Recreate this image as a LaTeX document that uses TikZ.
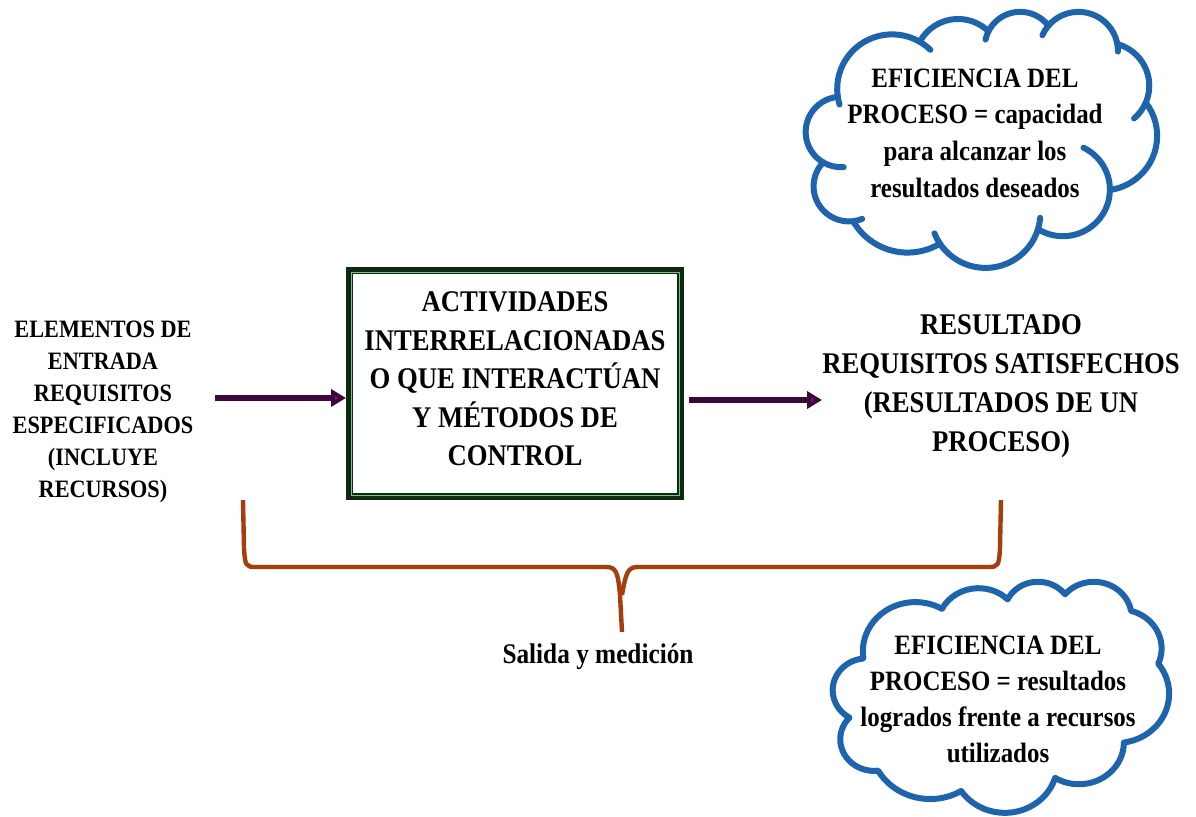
\documentclass[tikz,border=0pt]{standalone}
\usepackage{fontspec}
\setmainfont{Liberation Serif}[FakeStretch=0.89]
\usetikzlibrary{arrows.meta}
\definecolor{boxdark}{RGB}{16,40,18}
\definecolor{boxlight}{RGB}{110,200,130}
\definecolor{arrowline}{RGB}{60,8,60}
\definecolor{arrowhead}{RGB}{140,10,140}
\definecolor{braceclr}{RGB}{165,62,12}
\definecolor{cloudblue}{RGB}{30,100,172}
\tikzset{
  lbl/.style={font=\bfseries, align=center, inner sep=0pt},
  flow/.style={draw=arrowline, line width=2.6pt,
    -{Triangle[length=7.5pt,width=8.5pt,fill=arrowhead]}},
  procbox/.style={draw=boxdark, line width=3.5pt, rectangle,
    minimum width=165.5pt, minimum height=113pt, inner sep=0pt},
  cloudline/.style={draw=cloudblue, line width=3pt, line join=round},
}
% cloud outline on a 43.2 x 43.2 grid (each puff is an elliptic arc)
\newcommand\drawcloudbody{%
  \filldraw[cloudline, fill=white] (3.900,14.370)
    arc[x radius=6.753, y radius=9.190,  start angle=-187.75, end angle=-59.64]
    arc[x radius=5.333, y radius=7.267,  start angle=-152.02, end angle=-45.46]
    arc[x radius=4.365, y radius=5.945,  start angle=-153.49, end angle=-37.33]
    arc[x radius=4.857, y radius=6.595,  start angle=-139.72, end angle=-10.22]
    arc[x radius=5.333, y radius=7.273,  start angle=-74.77,  end angle=23.21]
    arc[x radius=6.775, y radius=9.220,  start angle=-37.52,  end angle=81.86]
    arc[x radius=5.785, y radius=7.867,  start angle=0.46,    end angle=121.99]
    arc[x radius=6.752, y radius=9.215,  start angle=16.85,   end angle=146.23]
    arc[x radius=7.720, y radius=10.543, start angle=58.98,   end angle=150.20]
    arc[x radius=4.360, y radius=5.918,  start angle=-276.69, end angle=-136.88]
    arc[x radius=4.345, y radius=5.945,  start angle=-239.65, end angle=-95.89]
    -- cycle;
}
% small inward curls continuing the puff arcs
\newcommand\drawcloudcurls{%
  \draw[cloudline, line cap=round]
    (4.307,20.411) ++(85.54:4.345 and 5.945)
      arc[x radius=4.345, y radius=5.945, start angle=85.54, end angle=120.35]
    (5.293,29.587) ++(68.23:4.360 and 5.918)
      arc[x radius=4.360, y radius=5.918, start angle=68.23, end angle=83.31]
    (22.092,34.137) ++(146.23:6.752 and 9.215)
      arc[x radius=6.752, y radius=9.215, start angle=146.23, end angle=158.47]
    (22.092,34.137) ++(4.74:6.752 and 9.215)
      arc[x radius=6.752, y radius=9.215, start angle=4.74, end angle=16.85]
    (31.619,30.135) ++(-64.03:5.785 and 7.867)
      arc[x radius=5.785, y radius=7.867, start angle=-64.03, end angle=0.46]
    (36.917,12.590) ++(23.21:5.333 and 7.273)
      arc[x radius=5.333, y radius=7.273, start angle=23.21, end angle=49.64]
    (33.538,6.742) ++(-10.22:4.857 and 6.595)
      arc[x radius=4.857, y radius=6.595, start angle=-10.22, end angle=0.83]
    (33.538,6.742) ++(-156.29:4.857 and 6.595)
      arc[x radius=4.857, y radius=6.595, start angle=-156.29, end angle=-139.72]
    (26.362,6.084) ++(-167.72:4.365 and 5.945)
      arc[x radius=4.365, y radius=5.945, start angle=-167.72, end angle=-153.49]
    (10.591,13.130) ++(-59.64:6.753 and 9.190)
      arc[x radius=6.753, y radius=9.190, start angle=-59.64, end angle=-45.75]
    (10.591,13.130) ++(163.19:6.753 and 9.190)
      arc[x radius=6.753, y radius=9.190, start angle=163.19, end angle=172.25];
}
\begin{document}
\begin{tikzpicture}[x=0.5pt, y=-0.5pt]
\useasboundingbox (0,0) rectangle (1196,816);
\clip (0,0) rectangle (1196,816);
\fill[white] (0,0) rectangle (1196,816);

% input text
\node[lbl, font=\fontsize{12.5}{16}\selectfont\bfseries] (inp) at (103,412)
  {ELEMENTOS DE\\ENTRADA\\REQUISITOS\\ESPECIFICADOS\\(INCLUYE\\RECURSOS)};

% process box
\node[procbox] (box) at (515,383.5) {};
\draw[boxlight, line width=0.5pt]
  ([shift={(5,5)}]box.north west) rectangle ([shift={(-5,-5)}]box.south east);
\node[lbl, font=\fontsize{15}{19.25}\selectfont\bfseries] (boxtxt) at (515,379)
  {ACTIVIDADES\\INTERRELACIONADAS\\O QUE INTERACTÚAN\\Y MÉTODOS DE\\CONTROL};

% result text
\node[lbl, font=\fontsize{15}{19.5}\selectfont\bfseries] (res) at (1001,386)
  {RESULTADO\\REQUISITOS SATISFECHOS\\(RESULTADOS DE UN\\PROCESO)};

% flow arrows
\coordinate (a1) at (215,398);
\coordinate (a2) at (822,400);
\draw[flow] (a1) -- (box.west |- a1);
\draw[flow] (box.east |- a2) ++(5,0) -- (a2);

% bracket beneath
\coordinate (bl) at (243,500);
\coordinate (br) at (1001,500);
\coordinate (bt) at (622,632);
\draw[braceclr, line width=2.2pt, line join=round]
  (bl) -- (244,548) .. controls (245,566) and (246,567) .. (256,567)
  -- (606,567) .. controls (616,567) and (618,572) .. (620,595) -- (bt)
  (bt) ++(0,-37) .. controls (626,572) and (628,567) .. (638,567)
  -- (988,567) .. controls (998,567) and (999,566) .. (1000,548) -- (br);

\node[lbl, font=\fontsize{14.2}{16}\selectfont\bfseries] (sal) at (598,657)
  {Salida y medición};

% efficiency clouds
\begin{scope}[shift={(806,11)}, x=4.0625pt, y=-2.963pt]
  \drawcloudbody
  \drawcloudcurls
\end{scope}
\node[lbl, font=\fontsize{14}{18.3}\selectfont\bfseries] (c1t) at (975,133)
  {EFICIENCIA DEL\\PROCESO = capacidad\\para alcanzar los\\resultados deseados};

\begin{scope}[shift={(833,581)}, x=3.889pt, y=-2.674pt]
  \drawcloudbody
\end{scope}
\node[lbl, font=\fontsize{14}{18}\selectfont\bfseries] (c2t) at (998,699)
  {EFICIENCIA DEL\\PROCESO = resultados\\logrados frente a recursos\\utilizados};
\end{tikzpicture}
\end{document}
